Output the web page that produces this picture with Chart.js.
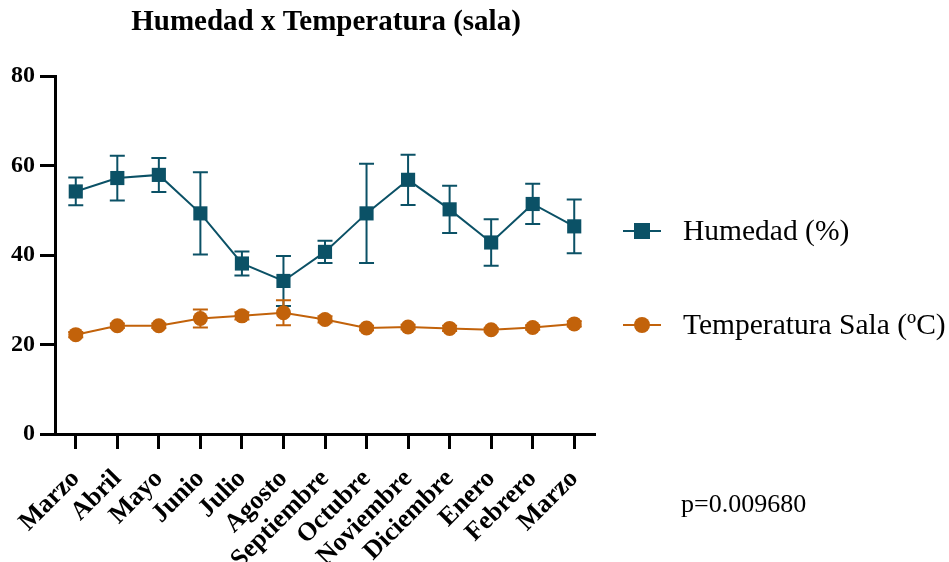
<!DOCTYPE html>
<html>
<head>
<meta charset="utf-8">
<script src="https://cdn.jsdelivr.net/npm/chart.js@4"></script>
<style>
  html, body { margin: 0; padding: 0; background: #fff; }
</style>
</head>
<body>
<canvas id="myChart" width="949" height="562"></canvas>
<script>
const COLORES = {
    humedad: '#0B5166',
    temperatura: '#C2620A'
};

const meses = ['Marzo', 'Abril', 'Mayo', 'Junio', 'Julio', 'Agosto', 'Septiembre',
               'Octubre', 'Noviembre', 'Diciembre', 'Enero', 'Febrero', 'Marzo'];

// medias mensuales y desviacion estandar
let humedad       = [54.2, 57.2, 57.9, 49.3, 38.1, 34.2, 40.7, 49.3, 56.8, 50.2, 42.8, 51.4, 46.4];
let humedadSD     = [3.1, 5.0, 3.8, 9.2, 2.7, 5.6, 2.5, 11.1, 5.6, 5.3, 5.2, 4.5, 6.0];
let temperatura   = [22.2, 24.2, 24.2, 25.8, 26.4, 27.1, 25.6, 23.7, 23.9, 23.6, 23.3, 23.8, 24.6];
let temperaturaSD = [0.6, 0.5, 0.5, 2.0, 0.8, 2.8, 0.7, 0.5, 0.5, 0.6, 0.4, 0.5, 0.6];

const yMin = 0, yMax = 80, yPaso = 20;
const titulo = 'Humedad x Temperatura (sala)';
const pValor = 'p=0.009680';

const fuente = 'Liberation Serif';

// barras de error (media +- SD) usando la escala y del grafico
const barrasError = {
    id: 'barrasError',
    beforeDatasetsDraw(chart) {
        const ctx = chart.ctx;
        const escalaY = chart.scales.y;
        chart.data.datasets.forEach((ds, i) => {
            const meta = chart.getDatasetMeta(i);
            ctx.save();
            ctx.strokeStyle = ds.borderColor;
            ctx.lineWidth = 2;
            meta.data.forEach((pt, j) => {
                const arriba = escalaY.getPixelForValue(ds.data[j] + ds.sd[j]);
                const abajo  = escalaY.getPixelForValue(ds.data[j] - ds.sd[j]);
                ctx.beginPath();
                ctx.moveTo(pt.x, arriba); ctx.lineTo(pt.x, abajo);
                ctx.moveTo(pt.x - 7.5, arriba); ctx.lineTo(pt.x + 7.5, arriba);
                ctx.moveTo(pt.x - 7.5, abajo);  ctx.lineTo(pt.x + 7.5, abajo);
                ctx.stroke();
            });
            ctx.restore();
        });
    }
};

// titulo, leyenda a la derecha y valor p
const textos = {
    id: 'textos',
    afterDraw(chart) {
        const ctx = chart.ctx;
        const area = chart.chartArea;
        ctx.save();
        ctx.fillStyle = '#000';
        ctx.textAlign = 'center';
        ctx.textBaseline = 'alphabetic';
        ctx.font = 'bold 29px "' + fuente + '"';
        ctx.fillText(titulo, (area.left + area.right) / 2 + 1, 30);

        const filas = [231, 325];
        chart.data.datasets.forEach((ds, i) => {
            const yy = filas[i];
            ctx.strokeStyle = ds.borderColor;
            ctx.fillStyle = ds.borderColor;
            ctx.lineWidth = 2;
            ctx.beginPath();
            ctx.moveTo(623, yy); ctx.lineTo(661, yy);
            ctx.stroke();
            if (ds.pointStyle === 'rect') {
                ctx.fillRect(634, yy - 8, 16, 16);
            } else {
                ctx.beginPath();
                ctx.arc(642, yy, 8, 0, Math.PI * 2);
                ctx.fill();
            }
            ctx.fillStyle = '#000';
            ctx.textAlign = 'left';
            ctx.textBaseline = 'middle';
            ctx.font = '29.5px "' + fuente + '"';
            ctx.fillText(ds.label, 683, yy + 1);
        });

        ctx.textAlign = 'left';
        ctx.textBaseline = 'alphabetic';
        ctx.font = '26px "' + fuente + '"';
        ctx.fillText(pValor, 681, 512);
        ctx.restore();
    }
};

const grafico = new Chart(document.getElementById('myChart').getContext('2d'), {
    type: 'line',
    data: {
        labels: meses,
        datasets: [{
            label: 'Humedad (%)',
            data: humedad,
            sd: humedadSD,
            borderColor: COLORES.humedad,
            backgroundColor: COLORES.humedad,
            borderWidth: 2,
            pointStyle: 'rect',
            pointRadius: 10,
            pointBorderWidth: 0,
            order: 1
        }, {
            label: 'Temperatura Sala (ºC)',
            data: temperatura,
            sd: temperaturaSD,
            borderColor: COLORES.temperatura,
            backgroundColor: COLORES.temperatura,
            borderWidth: 2,
            pointStyle: 'circle',
            pointRadius: 7.5,
            pointBorderWidth: 0,
            order: 0
        }]
    },
    options: {
        responsive: false,
        animation: false,
        layout: {
            padding: { top: 76, right: 354, bottom: 0, left: 0 }
        },
        plugins: {
            legend: { display: false },
            tooltip: { enabled: false }
        },
        scales: {
            x: {
                offset: true,
                afterFit: (scale) => { scale.height = 128; },
                grid: {
                    drawOnChartArea: false,
                    drawTicks: true,
                    tickLength: 15,
                    tickWidth: 3,
                    tickColor: '#000'
                },
                border: { display: true, width: 3, color: '#000' },
                ticks: {
                    color: '#000',
                    minRotation: 45,
                    maxRotation: 45,
                    autoSkip: false,
                    padding: 11,
                    font: { family: fuente, size: 26, weight: 'bold', lineHeight: 1.6 }
                }
            },
            y: {
                min: yMin,
                max: yMax,
                afterFit: (scale) => { scale.width = 55; },
                grid: {
                    drawOnChartArea: false,
                    drawTicks: true,
                    tickLength: 15,
                    tickWidth: 3,
                    tickColor: '#000'
                },
                border: { display: true, width: 3, color: '#000' },
                ticks: {
                    stepSize: yPaso,
                    color: '#000',
                    padding: 5,
                    font: { family: fuente, size: 24, weight: 'bold' }
                }
            }
        }
    },
    plugins: [barrasError, textos]
});
</script>
</body>
</html>
